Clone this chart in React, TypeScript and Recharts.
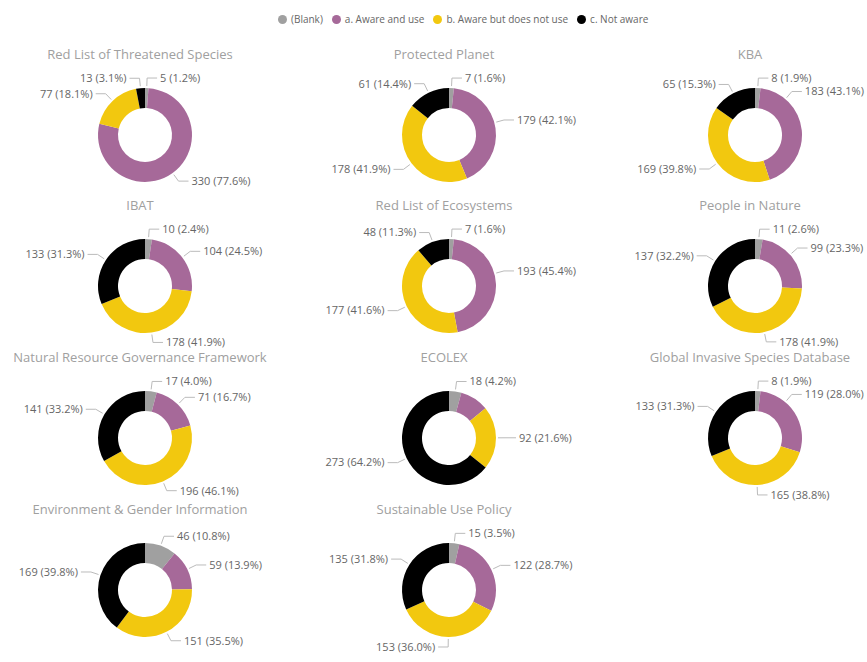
import { PieChart, Pie, Cell } from 'recharts';

// legend categories and their colours
const categories = ['(Blank)', 'a. Aware and use', 'b. Aware but does not use', 'c. Not aware'];
const colors = ['#A0A0A0', '#A66999', '#F2C80F', '#000000'];

// one donut per tool, values in category order
const titles = [
    'Red List of Threatened Species',
    'Protected Planet',
    'KBA',
    'IBAT',
    'Red List of Ecosystems',
    'People in Nature',
    'Natural Resource Governance Framework',
    'ECOLEX',
    'Global Invasive Species Database',
    'Environment & Gender Information',
    'Sustainable Use Policy',
];
const redList = [5, 330, 77, 13];
const protectedPlanet = [7, 179, 178, 61];
const kba = [8, 183, 169, 65];
const ibat = [10, 104, 178, 133];
const redListEco = [7, 193, 177, 48];
const peopleInNature = [11, 99, 178, 137];
const nrgf = [17, 71, 196, 141];
const ecolex = [18, 42, 92, 273];
const gisd = [8, 119, 165, 133];
const envGender = [46, 59, 151, 169];
const sustainableUse = [15, 122, 153, 135];

const toolValues = [redList, protectedPlanet, kba, ibat, redListEco, peopleInNature, nrgf, ecolex, gisd, envGender, sustainableUse];

const colCenters = [140, 444, 750];
const colRight = [290, 580, 868];
const rowCenters = [130, 281, 433, 585];
const INNER = 27;
const OUTER = 47;
const FONT = '"Open Sans", "Noto Sans", sans-serif';
const RAD = Math.PI / 180;

type LabelPos = { std: number; right: boolean; hidden: boolean; text: string };

// work out where each outside label goes (clockwise from 12 o'clock), hide ones that collide
function layoutLabels(values: number[], centerX: number, limit: number): LabelPos[] {
    const total = values.reduce((a, b) => a + b, 0);
    let acc = 0;
    const placed: { right: boolean; y: number }[] = [];
    return values.map((v) => {
        const mid = ((acc + v / 2) / total) * 360;
        acc += v;
        let std = 90 - mid;
        const text = `${v} (${((v / total) * 100).toFixed(1)}%)`;
        const right = Math.cos(std * RAD) >= 0;
        const w = text.length * 6;
        if (right) {
            while (centerX + (OUTER + 10) * Math.cos(std * RAD) + 15 + w > limit && std < 85) std += 1;
        }
        const y = -(OUTER + 10) * Math.sin(std * RAD);
        const hidden = placed.some((p) => p.right === right && Math.abs(p.y - y) < 11);
        if (!hidden) placed.push({ right, y });
        return { std, right, hidden, text };
    });
}

function renderLabel(props: any, layout: LabelPos[]) {
    const { cx, cy, index } = props;
    const l = layout[index];
    if (!l || l.hidden) return null;
    const c = Math.cos(l.std * RAD);
    const s = Math.sin(l.std * RAD);
    const x1 = cx + (OUTER + 2) * c;
    const y1 = cy - (OUTER + 2) * s;
    const x2 = cx + (OUTER + 10) * c;
    const y2 = cy - (OUTER + 10) * s;
    const x3 = x2 + (l.right ? 10 : -10);
    return (
        <g key={`lbl-${index}`}>
            <polyline points={`${x1},${y1} ${x2},${y2} ${x3},${y2}`} fill="none" stroke="#BBBBBB" strokeWidth={1} />
            <text
                x={x3 + (l.right ? 3 : -3)}
                y={y2}
                dy="0.35em"
                textAnchor={l.right ? 'start' : 'end'}
                fontSize={11}
                fontFamily={FONT}
                fill="#666666"
            >
                {l.text}
            </text>
        </g>
    );
}

function Donut({ title, values, col, row }: { title: string; values: number[]; col: number; row: number }) {
    const cx = colCenters[col];
    const cy = rowCenters[row];
    const layout = layoutLabels(values, cx, colRight[col]);
    const data = categories.map((name, i) => ({ name, value: values[i] }));
    return (
        <>
            <div
                style={{
                    position: 'absolute',
                    left: cx - 150,
                    top: cy - 85,
                    width: 300,
                    textAlign: 'center',
                    fontFamily: FONT,
                    fontSize: 13,
                    color: '#A0A0A0',
                    whiteSpace: 'nowrap',
                }}
            >
                {title}
            </div>
            <div style={{ position: 'absolute', left: cx - 150, top: cy - 68 }}>
                <PieChart width={300} height={144}>
                    <Pie
                        data={data}
                        dataKey="value"
                        cx={150}
                        cy={68}
                        innerRadius={INNER}
                        outerRadius={OUTER}
                        startAngle={90}
                        endAngle={-270}
                        stroke="none"
                        labelLine={false}
                        label={(p: any) => renderLabel(p, layout)}
                        isAnimationActive={false}
                    >
                        {data.map((d, i) => (
                            <Cell key={d.name} fill={colors[i]} />
                        ))}
                    </Pie>
                </PieChart>
            </div>
        </>
    );
}

export default function App() {
    return (
        <div
            style={{
                position: 'absolute',
                left: 0,
                top: 0,
                width: 867,
                height: 662,
                overflow: 'hidden',
                background: '#fff',
            }}
        >
            <div
                style={{
                    position: 'absolute',
                    left: 278,
                    top: 12,
                    display: 'flex',
                    alignItems: 'center',
                    gap: 9,
                    fontFamily: FONT,
                    fontSize: 10,
                    color: '#666666',
                    whiteSpace: 'nowrap',
                }}
            >
                {categories.map((c, i) => (
                    <span key={c} style={{ display: 'inline-flex', alignItems: 'center', gap: 4 }}>
                        <span
                            style={{
                                width: 9,
                                height: 9,
                                borderRadius: '50%',
                                background: colors[i],
                                display: 'inline-block',
                            }}
                        />
                        {c}
                    </span>
                ))}
            </div>
            {titles.map((t, i) => (
                <Donut key={t} title={t} values={toolValues[i]} col={i % 3} row={Math.floor(i / 3)} />
            ))}
        </div>
    );
}
